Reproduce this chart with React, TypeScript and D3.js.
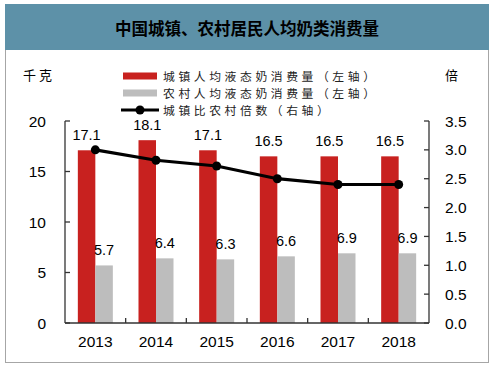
import * as d3 from 'd3';
import React, { useEffect, useRef } from 'react';

const years = ['2013', '2014', '2015', '2016', '2017', '2018'];
const urbanMilk = [17.1, 18.1, 17.1, 16.5, 16.5, 16.5];
const ruralMilk = [5.7, 6.4, 6.3, 6.6, 6.9, 6.9];
const ratio = [3.0, 2.82, 2.72, 2.5, 2.4, 2.4];
const leftTicks = [0, 5, 10, 15, 20];
const rightTicks = [0, 0.5, 1, 1.5, 2, 2.5, 3, 3.5];
const legendLabels = ['城镇人均液态奶消费量（左轴）', '农村人均液态奶消费量（左轴）', '城镇比农村倍数（右轴）'];

const RED = '#c8211f';
const GREY = '#bdbdbd';
const NUM_FONT = '"Liberation Sans", Arial, sans-serif';
const CJK_FONT = '"Noto Sans CJK SC", sans-serif';

export default function App(): React.JSX.Element {
	const ref = useRef<SVGSVGElement | null>(null);

	useEffect(() => {
		if (ref.current === null) return;
		const root = d3.select(ref.current);
		root.selectAll('*').remove();

		const width = 493;
		const height = 368;
		const plot = { left: 65, right: 429, top: 121, bottom: 323 };

		root.attr('width', width).attr('height', height);

		// frame + title band
		root.append('rect')
			.attr('x', 5.5).attr('y', 4.5).attr('width', 483).attr('height', 358)
			.attr('fill', '#fff').attr('stroke', '#a6a6a6');
		root.append('rect')
			.attr('x', 5).attr('y', 4).attr('width', 484).attr('height', 46)
			.attr('fill', '#5d91a8');
		root.append('text')
			.attr('x', 247).attr('y', 35)
			.attr('text-anchor', 'middle')
			.attr('font-family', CJK_FONT)
			.attr('font-weight', 'bold')
			.attr('font-size', 16.5)
			.attr('fill', '#000')
			.text('中国城镇、农村居民人均奶类消费量');

		const x = d3.scaleBand().domain(years).range([plot.left, plot.right]);
		const yLeft = d3.scaleLinear().domain([0, 20]).range([plot.bottom, plot.top]);
		const yRight = d3.scaleLinear().domain([0, 3.5]).range([plot.bottom, plot.top]);
		const barW = 17.5;

		const g = root.append('g');

		// bars
		g.selectAll('rect.urban').data(urbanMilk).enter().append('rect')
			.attr('x', (_, i) => (x(years[i]) ?? 0) + x.bandwidth() / 2 - barW)
			.attr('y', d => yLeft(d))
			.attr('width', barW)
			.attr('height', d => yLeft(0) - yLeft(d))
			.attr('fill', RED);
		g.selectAll('rect.rural').data(ruralMilk).enter().append('rect')
			.attr('x', (_, i) => (x(years[i]) ?? 0) + x.bandwidth() / 2)
			.attr('y', d => yLeft(d))
			.attr('width', barW)
			.attr('height', d => yLeft(0) - yLeft(d))
			.attr('fill', GREY);

		// value labels
		g.selectAll('text.urban').data(urbanMilk).enter().append('text')
			.attr('x', (_, i) => (x(years[i]) ?? 0) + x.bandwidth() / 2 - barW / 2)
			.attr('y', d => yLeft(d) - 10)
			.attr('text-anchor', 'middle')
			.attr('font-family', NUM_FONT).attr('font-size', 14.5)
			.text(d => d.toFixed(1));
		g.selectAll('text.rural').data(ruralMilk).enter().append('text')
			.attr('x', (_, i) => (x(years[i]) ?? 0) + x.bandwidth() / 2 + barW / 2)
			.attr('y', d => yLeft(d) - 10)
			.attr('text-anchor', 'middle')
			.attr('font-family', NUM_FONT).attr('font-size', 14.5)
			.text(d => d.toFixed(1));

		// axes
		const axisColor = '#333';
		g.append('line')
			.attr('x1', plot.left).attr('x2', plot.left)
			.attr('y1', plot.top).attr('y2', plot.bottom)
			.attr('stroke', axisColor).attr('stroke-width', 1.3);
		g.append('line')
			.attr('x1', plot.right).attr('x2', plot.right)
			.attr('y1', plot.top).attr('y2', plot.bottom)
			.attr('stroke', axisColor).attr('stroke-width', 1.3);
		g.append('line')
			.attr('x1', plot.left).attr('x2', plot.right)
			.attr('y1', plot.bottom).attr('y2', plot.bottom)
			.attr('stroke', axisColor).attr('stroke-width', 1.5);

		g.selectAll('line.lt').data(leftTicks).enter().append('line')
			.attr('x1', plot.left).attr('x2', plot.left + 5)
			.attr('y1', d => yLeft(d)).attr('y2', d => yLeft(d))
			.attr('stroke', axisColor).attr('stroke-width', 1.3);
		g.selectAll('text.lt').data(leftTicks).enter().append('text')
			.attr('x', 46).attr('y', d => yLeft(d) + 5.5)
			.attr('text-anchor', 'end')
			.attr('font-family', NUM_FONT).attr('font-size', 15.5)
			.text(d => String(d));

		g.selectAll('line.rt').data(rightTicks).enter().append('line')
			.attr('x1', plot.right - 5).attr('x2', plot.right)
			.attr('y1', d => yRight(d)).attr('y2', d => yRight(d))
			.attr('stroke', axisColor).attr('stroke-width', 1.3);
		g.selectAll('text.rt').data(rightTicks).enter().append('text')
			.attr('x', 445).attr('y', d => yRight(d) + 5.5)
			.attr('font-family', NUM_FONT).attr('font-size', 15.5)
			.text(d => d.toFixed(1));

		g.selectAll('line.xt').data(years.slice(1)).enter().append('line')
			.attr('x1', d => x(d) ?? 0).attr('x2', d => x(d) ?? 0)
			.attr('y1', plot.bottom - 5).attr('y2', plot.bottom)
			.attr('stroke', axisColor).attr('stroke-width', 1.3);
		g.selectAll('text.xt').data(years).enter().append('text')
			.attr('x', d => (x(d) ?? 0) + x.bandwidth() / 2)
			.attr('y', 347)
			.attr('text-anchor', 'middle')
			.attr('font-family', NUM_FONT).attr('font-size', 15.5)
			.text(d => d);

		// ratio line
		const line = d3.line<number>()
			.x((_, i) => (x(years[i]) ?? 0) + x.bandwidth() / 2)
			.y(d => yRight(d));
		g.append('path').datum(ratio)
			.attr('d', line)
			.attr('fill', 'none').attr('stroke', '#000').attr('stroke-width', 3.2);
		g.selectAll('circle.pt').data(ratio).enter().append('circle')
			.attr('cx', (_, i) => (x(years[i]) ?? 0) + x.bandwidth() / 2)
			.attr('cy', d => yRight(d))
			.attr('r', 4.5).attr('fill', '#000');

		// unit labels
		root.append('text').attr('x', 23).attr('y', 80)
			.attr('font-family', CJK_FONT).attr('font-size', 13).attr('letter-spacing', 3)
			.text('千克');
		root.append('text').attr('x', 445).attr('y', 80)
			.attr('font-family', CJK_FONT).attr('font-size', 13)
			.text('倍');

		// legend
		const legendY = [76, 93, 110];
		const lg = root.append('g');
		lg.append('rect').attr('x', 123).attr('y', legendY[0] - 3.5).attr('width', 34).attr('height', 7).attr('fill', RED);
		lg.append('rect').attr('x', 123).attr('y', legendY[1] - 3.5).attr('width', 34).attr('height', 7).attr('fill', GREY);
		lg.append('line').attr('x1', 121).attr('x2', 159).attr('y1', legendY[2]).attr('y2', legendY[2])
			.attr('stroke', '#000').attr('stroke-width', 3.2);
		lg.append('circle').attr('cx', 140).attr('cy', legendY[2]).attr('r', 4.5).attr('fill', '#000');
		lg.selectAll('text').data(legendLabels).enter().append('text')
			.attr('x', 163).attr('y', (_, i) => legendY[i] + 4.5)
			.attr('font-family', CJK_FONT).attr('font-size', 11.8).attr('letter-spacing', 3.6)
			.attr('fill', '#222')
			.text(d => d);
	}, []);

	return (
		<svg ref={ref} style={{ position: 'absolute', left: 0, top: 0 }} />
	);
}
